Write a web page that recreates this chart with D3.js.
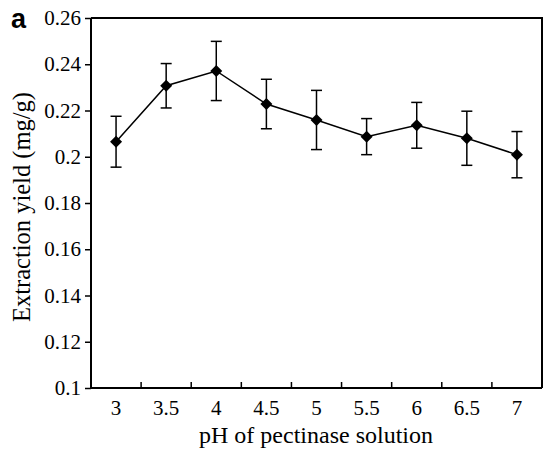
<!DOCTYPE html>
<html>
<head>
<meta charset="utf-8">
<script src="https://cdn.jsdelivr.net/npm/d3@7"></script>
<style>
  body { margin: 0; background: #fff; }
  text { font-family: "Liberation Serif", "Times New Roman", serif; fill: #000; }
</style>
</head>
<body>
<svg id="chart" width="543" height="450"></svg>
<script>
// data
let phLabels = ["3", "3.5", "4", "4.5", "5", "5.5", "6", "6.5", "7"];
let yieldMean = [0.2065, 0.2307, 0.2371, 0.2228, 0.2159, 0.2087, 0.2136, 0.2080, 0.2009];
let yieldErr = [0.0110, 0.0096, 0.0128, 0.0107, 0.0128, 0.0078, 0.0099, 0.0117, 0.0100];
let yTicks = [0.1, 0.12, 0.14, 0.16, 0.18, 0.2, 0.22, 0.24, 0.26];

let svg = d3.select("#chart");
let mLeft = 91, mRight = 542, mTop = 18, mBottom = 388;

let x = d3.scaleBand().domain(phLabels).range([mLeft, mRight]);
let y = d3.scaleLinear().domain([0.1, 0.26]).range([mBottom, mTop]);

// frame (top + right)
svg.append("path")
  .attr("d", `M${mLeft},${mTop}H${mRight}V${mBottom}`)
  .attr("fill", "none").attr("stroke", "#000").attr("stroke-width", 2);

// y axis
let yAxis = svg.append("g").attr("transform", `translate(${mLeft},0)`)
  .call(d3.axisLeft(y).tickValues(yTicks).tickFormat(d => String(+d.toFixed(2))).tickSize(6).tickPadding(4));
yAxis.select(".domain").attr("stroke-width", 2).attr("d", `M0,${mBottom}V${mTop}`);
yAxis.selectAll(".tick line").attr("stroke-width", 1.5);
yAxis.selectAll("text").style("font-size", "21px").style("font-family", "Liberation Serif");

// x axis, ticks between categories pointing up
let xAxis = svg.append("g").attr("transform", `translate(0,${mBottom})`)
  .call(d3.axisBottom(x).tickSize(0).tickPadding(12));
xAxis.select(".domain").attr("stroke-width", 2).attr("d", `M${mLeft},0H${mRight}`);
xAxis.selectAll("text").style("font-size", "21px").style("font-family", "Liberation Serif");
xAxis.selectAll(".sep")
  .data(phLabels.slice(1))
  .join("line")
  .attr("x1", d => x(d)).attr("x2", d => x(d))
  .attr("y1", 0).attr("y2", -6)
  .attr("stroke", "#000").attr("stroke-width", 1.5);

let cx = d => x(d) + x.bandwidth() / 2;

// error bars
let eb = svg.append("g").attr("stroke", "#000").attr("stroke-width", 1.5);
phLabels.forEach((p, i) => {
  let hi = y(yieldMean[i] + yieldErr[i]), lo = y(yieldMean[i] - yieldErr[i]);
  eb.append("line").attr("x1", cx(p)).attr("x2", cx(p)).attr("y1", hi).attr("y2", lo);
  eb.append("line").attr("x1", cx(p) - 5.5).attr("x2", cx(p) + 5.5).attr("y1", hi).attr("y2", hi);
  eb.append("line").attr("x1", cx(p) - 5.5).attr("x2", cx(p) + 5.5).attr("y1", lo).attr("y2", lo);
});

// line
let line = d3.line().x((d, i) => cx(phLabels[i])).y(d => y(d));
svg.append("path").attr("d", line(yieldMean))
  .attr("fill", "none").attr("stroke", "#000").attr("stroke-width", 1.5);

// diamond markers
svg.selectAll(".pt")
  .data(yieldMean)
  .join("path")
  .attr("d", "M0,-6L6,0L0,6L-6,0Z")
  .attr("transform", (d, i) => `translate(${cx(phLabels[i])},${y(d)})`)
  .attr("fill", "#000");

// axis titles
svg.append("text").attr("x", 316).attr("y", 443)
  .attr("text-anchor", "middle").style("font-size", "24px")
  .text("pH of pectinase solution");
svg.append("text").attr("transform", `translate(30,207) rotate(-90)`)
  .attr("text-anchor", "middle").style("font-size", "24.5px")
  .text("Extraction yield (mg/g)");

// panel letter
svg.append("text").attr("x", 11).attr("y", 28)
  .style("font-family", "Liberation Sans").style("font-weight", "bold").style("font-size", "27px")
  .text("a");
</script>
</body>
</html>
